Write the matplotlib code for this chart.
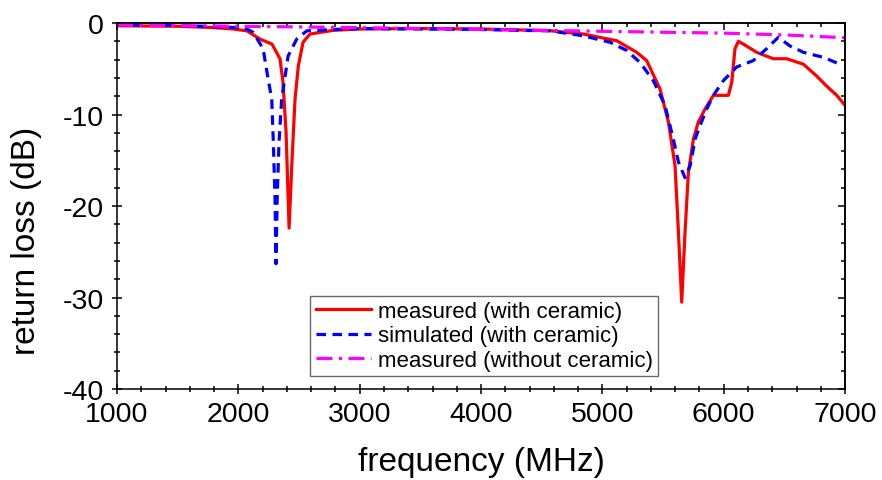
import numpy as np
import matplotlib.pyplot as plt
from matplotlib.ticker import MultipleLocator

plt.rcParams['font.family'] = ['Liberation Sans', 'DejaVu Sans']
plt.rcParams['axes.unicode_minus'] = False

# measured (with ceramic)
red_f = [1000, 1500, 1800, 1956, 2071, 2178, 2277, 2343, 2368, 2393, 2418, 2440, 2467, 2494, 2533, 2590,
         2780, 3000, 3500, 4000, 4569, 4843, 5118, 5283, 5365, 5475, 5544, 5599, 5627, 5654, 5681, 5709,
         5750, 5791, 5846, 5915, 5997, 6038, 6066, 6093, 6121, 6162, 6272, 6409, 6519, 6657, 6767, 6849,
         6932, 7000]
red = [-0.3, -0.35, -0.5, -0.65, -0.85, -1.75, -2.3, -3.9, -6.5, -11.9, -22.4, -15.6, -8.3, -4.7, -2.1, -1.2,
       -0.8, -0.65, -0.6, -0.65, -0.84, -1.2, -1.93, -3.2, -4.1, -7.2, -10.8, -15.6, -22.9, -30.5, -22.9, -16.3,
       -12.7, -10.8, -9.4, -7.9, -7.9, -7.9, -6.5, -2.8, -2.0, -2.3, -3.2, -3.9, -3.9, -4.5, -5.8, -6.9,
       -7.9, -9.0]

# simulated (with ceramic)
blue_f = [1000, 1500, 1800, 2000, 2069, 2121, 2204, 2245, 2275, 2288, 2302, 2310, 2320, 2335, 2357, 2410,
          2481, 2564, 2800, 3000, 3500, 4000, 4300, 4569, 4843, 5063, 5201, 5310, 5420, 5516, 5585, 5627,
          5681, 5723, 5764, 5805, 5860, 5915, 5997, 6107, 6244, 6354, 6450, 6546, 6657, 6822, 6940]
blue = [-0.2, -0.25, -0.4, -0.5, -0.65, -1.0, -2.8, -6.1, -8.3, -13, -19.2, -26.3, -19, -13, -8.3, -3.6,
        -1.75, -0.85, -0.7, -0.6, -0.65, -0.7, -0.8, -0.84, -1.4, -2.1, -3.0, -4.3, -6.3, -9.0, -12.7, -15.2,
        -16.9, -15.6, -12.7, -11.2, -9.4, -7.9, -6.3, -4.8, -4.1, -2.8, -1.56, -2.5, -3.2, -3.75, -4.4]

# measured (without ceramic)
mag_f = [1000, 2000, 3000, 4000, 5000, 6000, 6500, 7000]
mag = [-0.2, -0.35, -0.5, -0.7, -0.9, -1.1, -1.3, -1.6]

fig = plt.figure(figsize=(8.82, 4.81), dpi=100)
ax = fig.add_axes([0.1327, 0.189, 0.8254, 0.761])

ax.plot(red_f, red, color='#ff0000', lw=2.3, label='measured (with ceramic)')
ax.plot(blue_f, blue, color='#0000ff', lw=2.3, dashes=(3, 2), label='simulated (with ceramic)')
ax.plot(mag_f, mag, color='#ff00ff', lw=2.3, dashes=(5, 2, 1, 2), label='measured (without ceramic)')

ax.set_xlim(1000, 7000)
ax.set_ylim(-40, 0)
ax.xaxis.set_major_locator(MultipleLocator(1000))
ax.xaxis.set_minor_locator(MultipleLocator(200))
ax.yaxis.set_major_locator(MultipleLocator(10))
ax.yaxis.set_minor_locator(MultipleLocator(2))
ax.tick_params(which='both', direction='inout', labelsize=20.5, width=1.1)
ax.tick_params(which='major', length=7)
ax.tick_params(which='minor', length=4)
ax.tick_params(axis='x', which='both', pad=5)
ax.tick_params(axis='y', which='both', pad=6)

# ticks on top and right too
top = ax.secondary_xaxis('top')
top.xaxis.set_major_locator(MultipleLocator(1000))
top.xaxis.set_minor_locator(MultipleLocator(200))
top.tick_params(which='both', direction='in', labeltop=False, width=1.1)
top.tick_params(which='major', length=5)
top.tick_params(which='minor', length=3)
right = ax.secondary_yaxis('right')
right.yaxis.set_major_locator(MultipleLocator(10))
right.yaxis.set_minor_locator(MultipleLocator(2))
right.tick_params(which='both', direction='in', labelright=False, width=1.1)
right.tick_params(which='major', length=5)
right.tick_params(which='minor', length=3)

for s in list(ax.spines.values()) + [top.spines['top'], right.spines['right']]:
    s.set_linewidth(1.1)

ax.set_xlabel('frequency (MHz)', fontsize=24)
ax.set_ylabel('return loss (dB)', fontsize=24)
ax.xaxis.set_label_coords(0.5, -0.155)
ax.yaxis.set_label_coords(-0.103, 0.407)

leg = ax.legend(loc='lower left', bbox_to_anchor=(0.265, 0.035), borderaxespad=0, fontsize=16,
                handlelength=2.5, handletextpad=0.3, labelspacing=0.15, borderpad=0.25,
                fancybox=False, frameon=True, edgecolor='#444444')
leg.get_frame().set_linewidth(1.0)

plt.savefig('out.png', dpi=100)
